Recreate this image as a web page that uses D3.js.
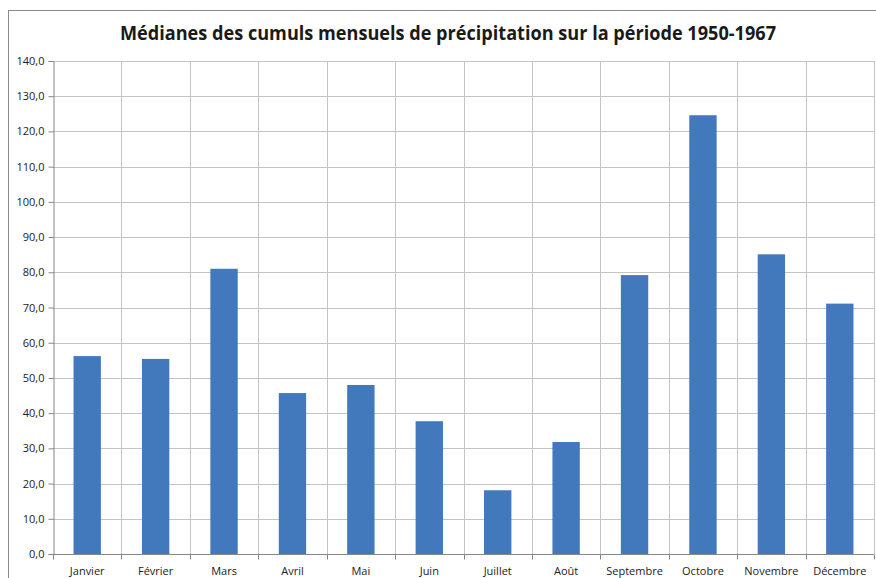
<!DOCTYPE html>
<html>
<head>
<meta charset="utf-8">
<script src="https://cdn.jsdelivr.net/npm/d3@7"></script>
<style>
  html, body { margin: 0; padding: 0; background: #fff; }
  svg { display: block; font-family: "Open Sans", "Noto Sans", sans-serif; }
</style>
</head>
<body>
<svg id="chart" width="876" height="578"></svg>
<script>
// Monthly precipitation medians (mm), 1950-1967
const months = ["Janvier", "Février", "Mars", "Avril", "Mai", "Juin",
                "Juillet", "Août", "Septembre", "Octobre", "Novembre", "Décembre"];
const medians = [56.2, 55.4, 81.0, 45.7, 48.0, 37.7, 18.1, 31.8, 79.2, 124.6, 85.1, 71.1];
const yTicks = [0, 10, 20, 30, 40, 50, 60, 70, 80, 90, 100, 110, 120, 130, 140];
const title = "Médianes des cumuls mensuels de précipitation sur la période 1950-1967";

const svg = d3.select("#chart");
const margin = { left: 53, right: 2, top: 61, bottom: 24 };
const W = 876, H = 578;
const plotW = W - margin.left - margin.right;
const plotH = H - margin.top - margin.bottom;

// Outer chart frame
svg.append("rect")
  .attr("x", 8.5).attr("y", 10.5)
  .attr("width", 900).attr("height", 600)
  .attr("fill", "#fff").attr("stroke", "#8c8c8c").attr("stroke-width", 1);

svg.append("text")
  .attr("x", 448).attr("y", 40)
  .attr("text-anchor", "middle")
  .attr("font-size", 19.5)
  .attr("font-weight", "bold")
  .attr("fill", "#1a1a1a")
  .attr("textLength", 656)
  .attr("lengthAdjust", "spacingAndGlyphs")
  .text(title);

const g = svg.append("g").attr("transform", `translate(${margin.left},${margin.top})`);

const x = d3.scaleBand().domain(months).range([0, plotW])
  .paddingInner(0.6).paddingOuter(0.3);
const xGrid = d3.scaleBand().domain(months).range([0, plotW]);
const y = d3.scaleLinear().domain([0, 140]).range([plotH, 0]);

const gridColor = "#c4c4c4";

// Horizontal gridlines
g.append("g").selectAll("line").data(yTicks.slice(1)).join("line")
  .attr("x1", 0).attr("x2", plotW)
  .attr("y1", d => Math.round(y(d)) + 0.5).attr("y2", d => Math.round(y(d)) + 0.5)
  .attr("stroke", gridColor).attr("stroke-width", 1);

// Vertical gridlines at category boundaries
const bounds = months.slice(1).map(m => xGrid(m)).concat([plotW]);
g.append("g").selectAll("line").data(bounds).join("line")
  .attr("x1", d => Math.round(d) + 0.5).attr("x2", d => Math.round(d) + 0.5)
  .attr("y1", 0).attr("y2", plotH)
  .attr("stroke", gridColor).attr("stroke-width", 1);

// Bars
g.append("g").selectAll("rect").data(medians).join("rect")
  .attr("x", (d, i) => x(months[i]))
  .attr("width", x.bandwidth())
  .attr("y", d => y(d))
  .attr("height", d => y(0) - y(d))
  .attr("fill", "#4279bd");

// Y axis
const yAxis = d3.axisLeft(y).tickValues(yTicks).tickSize(5).tickPadding(4)
  .tickFormat(d => d3.format(".1f")(d).replace(".", ","));
const ya = g.append("g").attr("transform", "translate(0.5,0)").call(yAxis);
ya.select(".domain").attr("stroke", "#868686");
ya.selectAll(".tick line").attr("stroke", "#868686");
ya.selectAll(".tick text").attr("font-size", 11).attr("fill", "#222")
  .attr("font-family", "'Open Sans', sans-serif");

// X axis: ticks on category boundaries, labels centred in each band
const xa = g.append("g").attr("transform", `translate(0,${Math.round(plotH) + 0.5})`);
xa.append("line").attr("x1", 0).attr("x2", plotW).attr("stroke", "#868686");
xa.selectAll("line.tk").data([0].concat(bounds)).join("line").attr("class", "tk")
  .attr("x1", d => Math.round(d) + 0.5).attr("x2", d => Math.round(d) + 0.5)
  .attr("y1", 0).attr("y2", 5).attr("stroke", "#868686");
xa.selectAll("text").data(months).join("text")
  .attr("x", d => xGrid(d) + xGrid.bandwidth() / 2)
  .attr("y", 20)
  .attr("text-anchor", "middle")
  .attr("font-size", 11)
  .attr("fill", "#222")
  .text(d => d);
</script>
</body>
</html>
